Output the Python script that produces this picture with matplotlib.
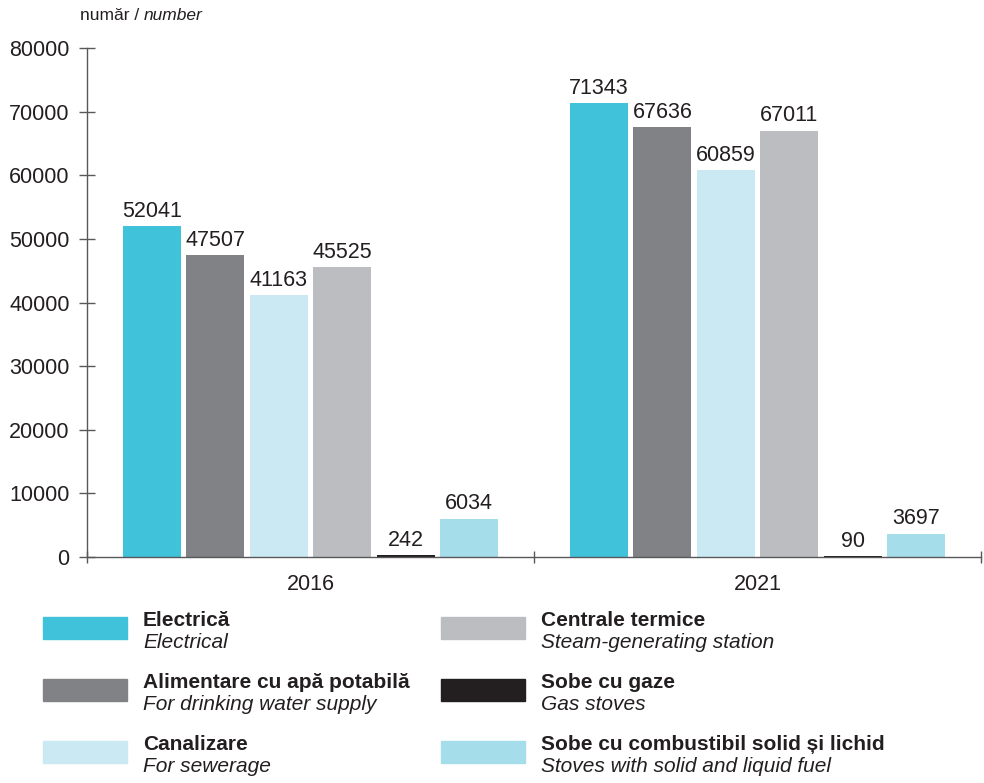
import numpy as np
import matplotlib
matplotlib.use("Agg")
import matplotlib.pyplot as plt
from matplotlib.patches import Rectangle

plt.rcParams['font.family'] = ['Liberation Sans', 'DejaVu Sans']

# data
years = ['2016', '2021']
series_ro = ['Electrică', 'Alimentare cu apă potabilă', 'Canalizare',
             'Centrale termice', 'Sobe cu gaze', 'Sobe cu combustibil solid și lichid']
series_en = ['Electrical', 'For drinking water supply', 'For sewerage',
             'Steam-generating station', 'Gas stoves', 'Stoves with solid and liquid fuel']
values_2016 = [52041, 47507, 41163, 45525, 242, 6034]
values_2021 = [71343, 67636, 60859, 67011, 90, 3697]
colors = ['#41c2db', '#818286', '#cbe9f3', '#bcbdc1', '#231f20', '#a6ddea']

values = np.array([values_2016, values_2021])

fig = plt.figure(figsize=(9.84, 7.83), dpi=100)
ax = fig.add_axes([0.0884, 0.2886, 0.9086, 0.6501])

x = np.arange(len(years))
step = 0.142
width = 0.13
for i in range(len(series_ro)):
    offs = (i - (len(series_ro) - 1) / 2) * step
    bars = ax.bar(x + offs, values[:, i], width=width, color=colors[i])
    ax.bar_label(bars, labels=[str(v) for v in values[:, i]], padding=3,
                 fontsize=15.5, color='#231f20')

ax.set_xlim(-0.5, 1.5)
ax.set_ylim(0, 80000)

for s in ['top', 'right']:
    ax.spines[s].set_visible(False)
for s in ['left', 'bottom']:
    ax.spines[s].set_color('#58585a')
    ax.spines[s].set_linewidth(1.0)

ax.set_yticks(np.arange(0, 80001, 10000))
ax.tick_params(axis='y', direction='inout', length=11, width=1, color='#58585a',
               labelsize=15.5, labelcolor='#231f20', pad=7)
ax.set_xticks([-0.5, 0.5, 1.5])
ax.set_xticklabels([])
ax.tick_params(axis='x', direction='inout', length=9, width=1, color='#58585a')
ax.set_xticks(x, minor=True)
ax.set_xticklabels(years, minor=True)
ax.tick_params(axis='x', which='minor', length=0, labelsize=15.5,
               labelcolor='#231f20', pad=12)

t1 = fig.text(80 / 984, 1 - 16 / 783, 'număr / ', fontsize=12.5, color='#231f20',
              ha='left', va='center')
ax.annotate('number', xy=(1, 0.5), xycoords=t1, ha='left', va='center',
            fontsize=12.5, color='#231f20', style='italic', annotation_clip=False)

# legend drawn by hand in two columns
leg_x = [43, 441]
leg_y = [628, 690, 752]
for i in range(len(series_ro)):
    col, row = divmod(i, 3)
    px, py = leg_x[col], leg_y[row]
    fig.patches.append(Rectangle((px / 984, 1 - (py + 11) / 783), 84 / 984, 22 / 783,
                                 transform=fig.transFigure, color=colors[i]))
    fig.text((px + 100) / 984, 1 - (py - 7) / 783, series_ro[i], fontsize=15,
             fontweight='bold', color='#231f20', ha='left', va='center')
    fig.text((px + 100) / 984, 1 - (py + 15) / 783, series_en[i], fontsize=15,
             style='italic', color='#231f20', ha='left', va='center')

fig.savefig('out.png', dpi=100)
